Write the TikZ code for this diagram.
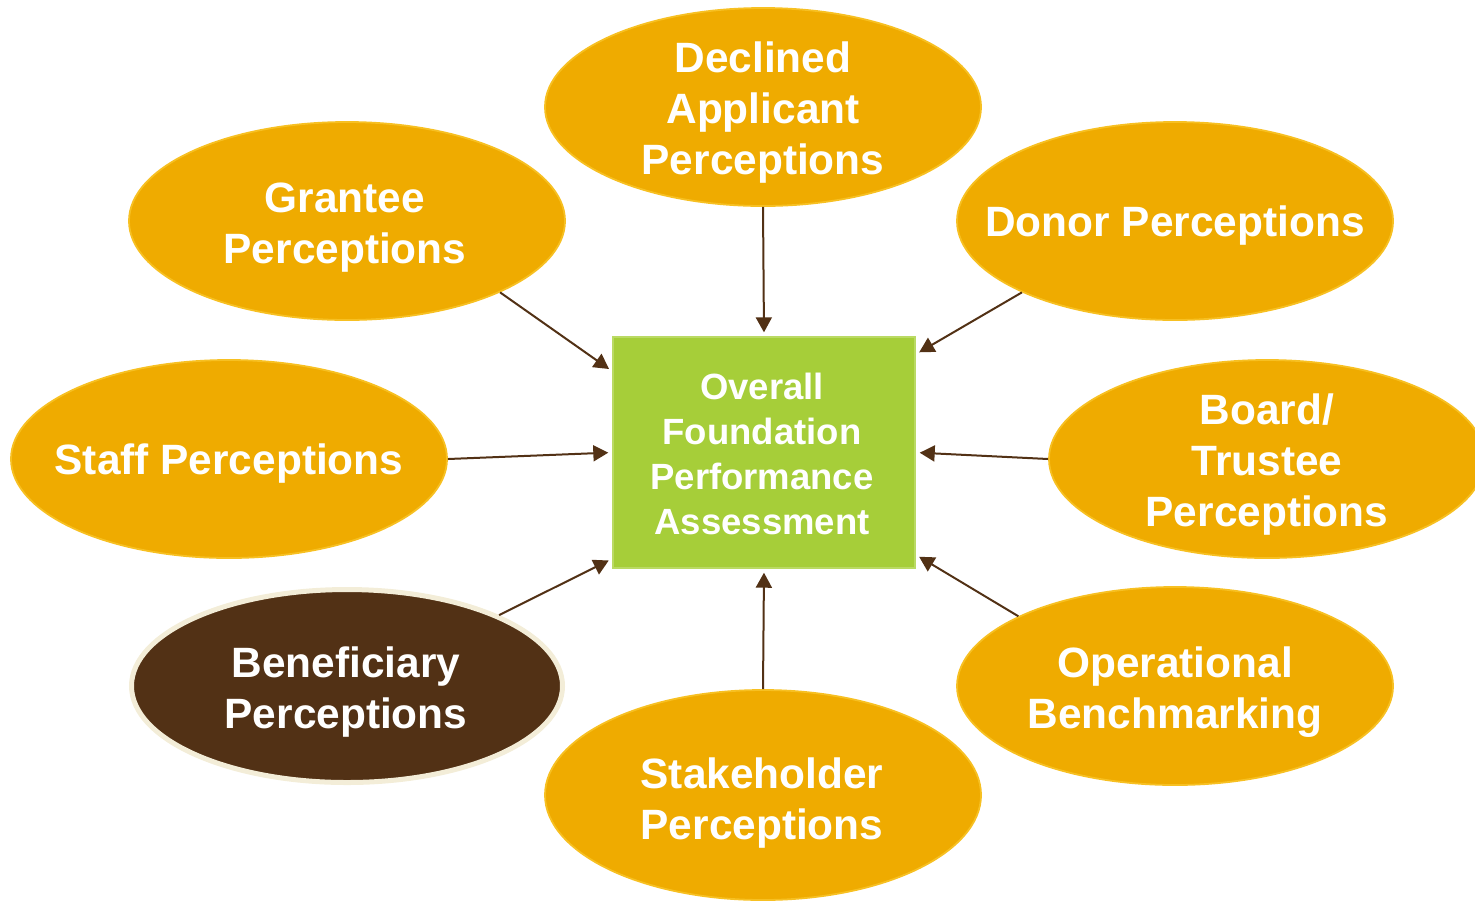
\documentclass[tikz,border=0pt]{standalone}
\usepackage{fontspec}
\setmainfont{Liberation Sans}
\usetikzlibrary{shapes.geometric,arrows.meta}
\definecolor{gold}{RGB}{239,171,0}
\definecolor{goldline}{RGB}{247,192,34}
\definecolor{leaf}{RGB}{166,206,57}
\definecolor{leafline}{RGB}{186,218,100}
\definecolor{bark}{RGB}{82,49,21}
\definecolor{cream}{RGB}{243,237,216}
\tikzset{
  bubble/.style={ellipse, fill=gold, draw=goldline, line width=0.9pt,
    minimum width=218pt, minimum height=99pt, inner sep=0pt},
  darkbubble/.style={bubble, fill=bark, draw=cream, line width=2.5pt,
    minimum width=215.5pt, minimum height=96.5pt},
  bubbletext/.style={text=white, align=center, inner sep=0pt,
    font=\fontsize{21.2}{25.5}\selectfont\bfseries},
  hub/.style={rectangle, fill=leaf, draw=leafline, line width=0.7pt,
    minimum width=151pt, minimum height=115.5pt, inner sep=0pt},
  hubtext/.style={text=white, align=center, inner sep=0pt,
    font=\fontsize{18.25}{22.5}\selectfont\bfseries},
  feed/.style={draw=bark, line width=1pt,
    -{Triangle[length=7.5pt,width=8pt]}, shorten >=2pt}
}
\begin{document}
\begin{tikzpicture}[x=0.5pt,y=-0.5pt]
  \useasboundingbox (0,0) rectangle (1475,901);
  \clip (0,0) rectangle (1475,901);

  % central assessment box
  \node[hub] (assess) at (764,452.5) {};
  \node[hubtext] (assesstext) at (762,454) {Overall\\Foundation\\Performance\\Assessment};

  % surrounding perception sources
  \node[bubble] (declined) at (763,107) {};
  \node[bubbletext] (declinedtext) at (763,113) {Declined\\Applicant\\Perceptions};

  \node[bubble] (grantee) at (347,221) {};
  \node[bubbletext] (granteetext) at (345,228) {Grantee\\Perceptions};

  \node[bubble] (donor) at (1175,221) {};
  \node[bubbletext] (donortext) at (1175,226) {Donor Perceptions};

  \node[bubble] (staff) at (229,459) {};
  \node[bubbletext] (stafftext) at (229,464) {Staff Perceptions};

  \node[bubble] (board) at (1267,459) {};
  \node[bubbletext] (boardtext) at (1267,465) {Board/\\Trustee\\Perceptions};

  \node[darkbubble] (benef) at (347,686) {};
  \node[bubbletext] (beneftext) at (346,692) {Beneficiary\\Perceptions};

  \node[bubble] (oper) at (1175,686) {};
  \node[bubbletext] (opertext) at (1175,692) {Operational\\Benchmarking};

  \node[bubble, minimum height=105pt] (stake) at (763,795) {};
  \node[bubbletext] (staketext) at (762,803) {Stakeholder\\Perceptions};

  % connectors into the assessment box
  \draw[feed] (grantee.-25) -- ([yshift=-17.5pt]assess.north west);
  \draw[feed] (declined.south) -- (assess.north);
  \draw[feed] (donor.205) -- ([yshift=-9pt]assess.north east);
  \draw[feed] (staff.east) -- (assess.west);
  \draw[feed] (board.west) -- (assess.east);
  \draw[feed] (benef.25) -- ([yshift=5pt]assess.south west);
  \draw[feed] (oper.156) -- ([yshift=7pt]assess.south east);
  \draw[feed] (stake.north) -- (assess.south);
\end{tikzpicture}
\end{document}
